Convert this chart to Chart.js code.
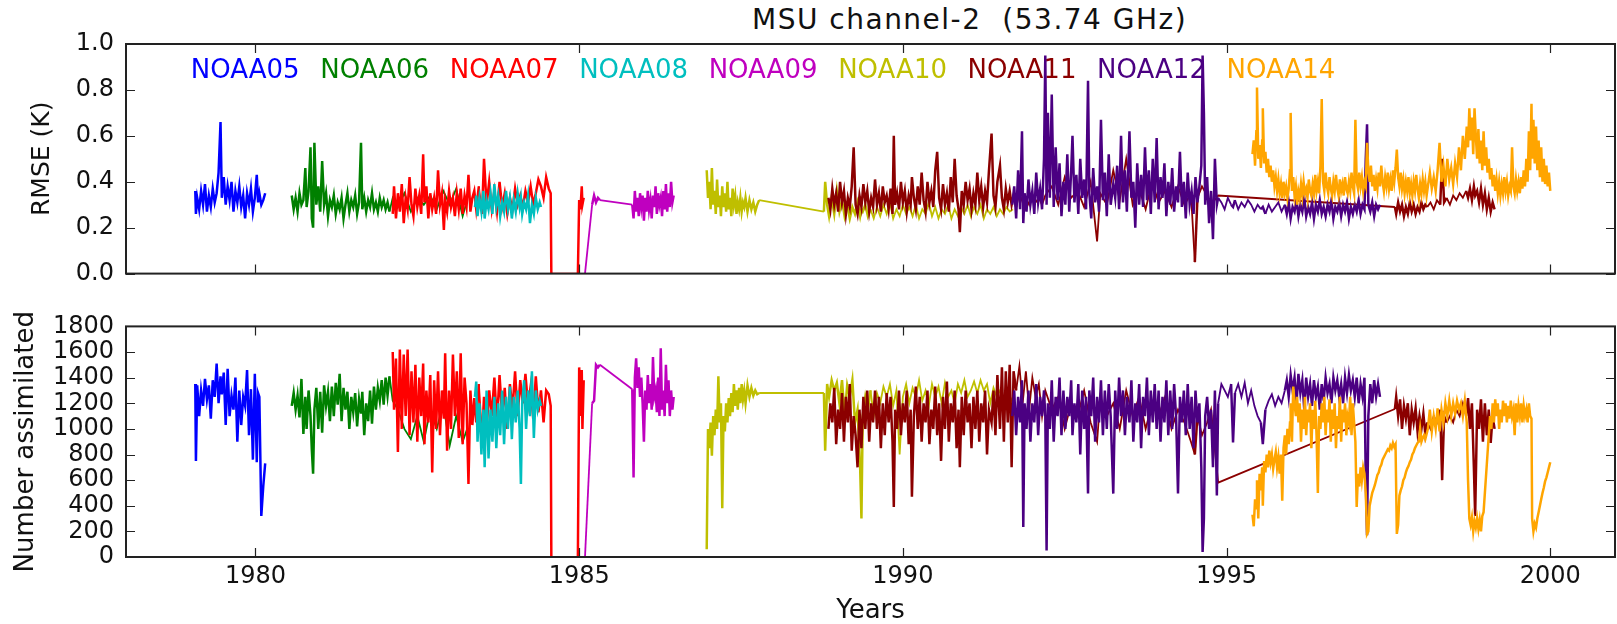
<!DOCTYPE html>
<html>
<head>
<meta charset="utf-8">
<script src="https://cdn.jsdelivr.net/npm/chart.js@4.4.1/dist/chart.umd.min.js"></script>
<style>
  html, body { margin: 0; padding: 0; background: #fff; }
  #wrap { position: relative; width: 1617px; height: 624px; overflow: hidden; }
  #rmseChart { position: absolute; left: 0; top: 0; }
  #countChart { position: absolute; left: 0; top: 300px; }
  #title { position: absolute; left: 752px; top: 6px; font-family: "DejaVu Sans"; font-size: 28px; line-height: 28px;
           letter-spacing: 1.5px; white-space: pre; color: #111; }
</style>
</head>
<body>
<div id="wrap">
  <div id="title">MSU channel-2  (53.74 GHz)</div>
  <canvas id="rmseChart" width="1617" height="300"></canvas>
  <canvas id="countChart" width="1617" height="324"></canvas>
</div>
<script>
// Satellites, their colours and where their names sit in the top panel
const satNames = ['NOAA05', 'NOAA06', 'NOAA07', 'NOAA08', 'NOAA09', 'NOAA10', 'NOAA11', 'NOAA12', 'NOAA14'];
const satColors = ['#0000ff', '#008000', '#ff0000', '#00bfbf', '#bf00bf', '#bfbf00', '#8b0000', '#4b0082', '#ffa500'];
const labelYears = [1979, 1981, 1983, 1985, 1987, 1989, 1991, 1993, 1995];
const labelLevel = 0.85;

// Axis ticks
const yearTicks = [1980, 1985, 1990, 1995, 2000];
const rmseTicks = [0.0, 0.2, 0.4, 0.6, 0.8, 1.0];
const countTicks = [0, 200, 400, 600, 800, 1000, 1200, 1400, 1600, 1800];

// Rows: [year, RMSE (K), number assimilated]
const noaa05 = [
  [1979.07,0.36,1350],[1979.08,0.26,750],[1979.10,0.33,1340],[1979.13,0.28,1100],[1979.16,0.36,1300],
  [1979.19,0.30,1180],[1979.22,0.39,1390],[1979.25,0.27,1230],[1979.28,0.34,1340],[1979.31,0.29,1080],
  [1979.34,0.37,1380],[1979.37,0.31,1250],[1979.40,0.35,1510],[1979.43,0.44,1200],[1979.46,0.66,1410],
  [1979.48,0.33,1270],[1979.51,0.42,1440],[1979.54,0.30,1030],[1979.57,0.38,1470],[1979.60,0.32,1100],
  [1979.63,0.40,1260],[1979.66,0.27,1150],[1979.69,0.36,1400],[1979.72,0.31,900],[1979.75,0.38,1300],
  [1979.78,0.29,1030],[1979.81,0.34,1250],[1979.84,0.24,1180],[1979.87,0.35,1460],[1979.90,0.30,950],
  [1979.93,0.37,1310],[1979.96,0.27,760],[1979.99,0.33,1430],[1980.02,0.43,740],[1980.04,0.31,1280],
  [1980.06,0.35,1250],[1980.09,0.30,320],[1980.12,0.32,550],[1980.15,0.35,730]
];
const noaa06 = [
  [1980.56,0.34,1180],[1980.59,0.28,1280],[1980.62,0.33,1150],[1980.65,0.27,1260],[1980.68,0.35,1090],
  [1980.71,0.30,1390],[1980.74,0.32,960],[1980.77,0.46,1250],[1980.79,0.29,1000],[1980.82,0.36,1300],
  [1980.85,0.55,1100],[1980.87,0.24,840],[1980.89,0.20,650],[1980.91,0.57,1150],[1980.94,0.30,1320],
  [1980.97,0.38,1000],[1981.00,0.27,1290],[1981.03,0.49,970],[1981.06,0.30,1340],[1981.09,0.35,1180],
  [1981.12,0.25,1290],[1981.15,0.32,1060],[1981.18,0.29,1330],[1981.21,0.34,1100],[1981.24,0.26,1360],
  [1981.27,0.31,1190],[1981.30,0.28,1430],[1981.33,0.33,1060],[1981.36,0.24,1320],[1981.39,0.30,1150],
  [1981.42,0.35,1290],[1981.45,0.27,1000],[1981.48,0.32,1250],[1981.51,0.29,1130],[1981.54,0.34,1280],
  [1981.57,0.26,1020],[1981.60,0.31,1230],[1981.63,0.57,1120],[1981.65,0.28,1290],[1981.68,0.33,950],
  [1981.71,0.27,1200],[1981.74,0.32,1060],[1981.77,0.29,1300],[1981.80,0.35,1040],[1981.83,0.28,1330],
  [1981.86,0.31,1150],[1981.89,0.27,1320],[1981.92,0.33,1220],[1981.95,0.29,1380],[1981.98,0.32,1190],
  [1982.01,0.28,1400],[1982.04,0.31,1260],[1982.07,0.27,1410],[1982.12,0.33,1220],[1982.20,0.29,1150],
  [1982.30,0.35,1000],[1982.40,0.27,920],[1982.50,0.33,1100],[1982.60,0.30,900],[1982.70,0.34,1150],
  [1982.80,0.28,1000],[1982.90,0.36,1200],[1983.00,0.30,870],[1983.10,0.37,1100],[1983.20,0.25,900],
  [1983.27,0.32,1000]
];
const noaa07 = [
  [1982.12,0.26,1600],[1982.14,0.38,1150],[1982.17,0.24,1550],[1982.20,0.35,820],[1982.23,0.27,1620],
  [1982.26,0.39,1000],[1982.29,0.22,1580],[1982.32,0.33,1100],[1982.35,0.28,1620],[1982.38,0.42,950],
  [1982.41,0.30,1450],[1982.44,0.25,1050],[1982.47,0.37,1500],[1982.50,0.29,900],[1982.53,0.34,1400],
  [1982.56,0.26,1100],[1982.59,0.52,1510],[1982.61,0.31,880],[1982.64,0.38,1300],[1982.67,0.24,1050],
  [1982.70,0.35,1420],[1982.73,0.28,660],[1982.76,0.33,1380],[1982.79,0.26,1000],[1982.82,0.45,1450],
  [1982.85,0.30,950],[1982.88,0.35,1300],[1982.91,0.19,1080],[1982.93,0.32,1590],[1982.96,0.27,830],
  [1982.99,0.36,1300],[1983.02,0.29,1000],[1983.05,0.33,1580],[1983.08,0.25,1100],[1983.11,0.35,1450],
  [1983.14,0.28,930],[1983.17,0.37,1590],[1983.20,0.26,880],[1983.23,0.34,1400],[1983.26,0.29,1200],
  [1983.29,0.43,570],[1983.32,0.27,1300],[1983.35,0.33,1030],[1983.38,0.36,1240],[1983.41,0.28,1050],
  [1983.45,0.38,1350],[1983.50,0.26,950],[1983.53,0.50,1250],[1983.57,0.30,1000],[1983.61,0.40,1300],
  [1983.65,0.28,1100],[1983.69,0.36,1400],[1983.73,0.27,1050],[1983.77,0.40,1420],[1983.81,0.29,1100],
  [1983.85,0.35,1320],[1983.89,0.26,1000],[1983.93,0.33,1350],[1983.97,0.28,1150],[1984.01,0.37,1450],
  [1984.05,0.30,1100],[1984.09,0.34,1380],[1984.13,0.29,1200],[1984.17,0.36,1430],[1984.21,0.31,1180],
  [1984.25,0.38,1330],[1984.29,0.30,1080],[1984.33,0.35,1410],[1984.37,0.41,1130],[1984.41,0.38,1300],
  [1984.45,0.33,1050],[1984.49,0.42,1300],[1984.53,0.37,1270],[1984.56,0.35,1180],[1984.57,0.00,0],
  [1984.98,0.00,0],[1985.00,0.32,1480],[1985.02,0.28,1100],[1985.04,0.38,1460],[1985.05,0.30,1000],
  [1985.07,0.33,1380]
];
const noaa08 = [
  [1983.39,0.29,1250],[1983.41,0.34,1370],[1983.43,0.25,900],[1983.46,0.33,1200],[1983.49,0.27,800],
  [1983.52,0.36,1150],[1983.54,0.24,700],[1983.57,0.32,1300],[1983.60,0.28,770],[1983.63,0.35,1150],
  [1983.66,0.26,900],[1983.69,0.39,1250],[1983.72,0.29,850],[1983.75,0.34,1200],[1983.78,0.25,950],
  [1983.81,0.31,1300],[1983.84,0.27,880],[1983.87,0.36,1250],[1983.90,0.28,1000],[1983.93,0.33,1330],
  [1983.96,0.24,920],[1983.99,0.32,1250],[1984.02,0.27,1050],[1984.05,0.35,1300],[1984.08,0.29,1000],
  [1984.10,0.33,570],[1984.12,0.26,1200],[1984.15,0.31,1380],[1984.18,0.28,1000],[1984.21,0.34,1300],
  [1984.24,0.22,1100],[1984.27,0.30,1450],[1984.30,0.26,930],[1984.33,0.33,1300],[1984.36,0.28,1150],
  [1984.39,0.31,1220],[1984.41,0.29,1180]
];
const noaa09 = [
  [1985.09,0.00,0],[1985.20,0.30,1200],[1985.23,0.34,1220],[1985.26,0.31,1500],[1985.29,0.33,1480],
  [1985.32,0.32,1500],[1985.82,0.30,1310],[1985.84,0.24,620],[1985.86,0.36,1400],[1985.88,0.27,1550],
  [1985.90,0.33,1320],[1985.92,0.25,1480],[1985.94,0.35,1250],[1985.96,0.29,1400],[1985.98,0.34,1200],
  [1986.00,0.23,900],[1986.02,0.33,1300],[1986.04,0.27,1150],[1986.06,0.36,1420],[1986.08,0.28,1200],
  [1986.10,0.32,1350],[1986.12,0.24,1150],[1986.14,0.34,1560],[1986.16,0.29,1250],[1986.18,0.38,1300],
  [1986.20,0.26,1130],[1986.22,0.35,1400],[1986.24,0.30,1100],[1986.26,0.33,1630],[1986.28,0.25,1150],
  [1986.30,0.36,1300],[1986.32,0.28,1100],[1986.34,0.39,1500],[1986.36,0.27,1200],[1986.38,0.35,1380],
  [1986.40,0.29,1100],[1986.42,0.40,1300],[1986.44,0.31,1150],[1986.46,0.34,1250]
];
const noaa10 = [
  [1986.97,0.45,60],[1986.99,0.33,1000],[1987.01,0.40,850],[1987.03,0.28,1050],[1987.05,0.46,790],
  [1987.07,0.30,1100],[1987.09,0.36,950],[1987.11,0.26,1150],[1987.13,0.41,1000],[1987.15,0.29,1410],
  [1987.17,0.34,1050],[1987.19,0.25,1200],[1987.21,0.38,380],[1987.23,0.29,1100],[1987.25,0.35,980],
  [1987.27,0.27,1200],[1987.29,0.40,1050],[1987.31,0.28,1240],[1987.33,0.33,1100],[1987.35,0.25,1280],
  [1987.37,0.37,1130],[1987.39,0.30,1350],[1987.41,0.34,1180],[1987.43,0.26,1300],[1987.45,0.31,1150],
  [1987.47,0.28,1320],[1987.49,0.33,1200],[1987.51,0.27,1350],[1987.53,0.31,1230],[1987.55,0.29,1300],
  [1987.57,0.33,1200],[1987.60,0.27,1340],[1987.63,0.32,1250],[1987.66,0.28,1320],[1987.69,0.31,1260],
  [1987.72,0.27,1300],[1987.75,0.30,1270],[1987.78,0.32,1280],[1988.78,0.27,1280],[1988.80,0.40,830],
  [1988.83,0.30,1350],[1988.86,0.25,1250],[1988.90,0.33,1380],[1988.94,0.26,1300],[1988.98,0.36,1360],
  [1989.02,0.27,1200],[1989.06,0.32,1380],[1989.10,0.25,1100],[1989.14,0.30,1340],[1989.18,0.24,1250],
  [1989.22,0.29,1380],[1989.26,0.26,1050],[1989.30,0.31,1150],[1989.34,0.25,700],[1989.36,0.28,300],
  [1989.38,0.27,1100],[1989.42,0.30,1250],[1989.46,0.25,1150],[1989.50,0.28,1300],[1989.55,0.24,1100],
  [1989.60,0.29,1280],[1989.65,0.25,1200],[1989.70,0.30,1330],[1989.75,0.26,1250],[1989.80,0.31,1350],
  [1989.85,0.24,1180],[1989.90,0.28,1300],[1989.95,0.25,800],[1990.00,0.30,1250],[1990.05,0.26,1350],
  [1990.10,0.29,1200],[1990.15,0.25,1320],[1990.20,0.30,1250],[1990.25,0.24,1380],[1990.30,0.28,1220],
  [1990.35,0.26,1300],[1990.40,0.31,1180],[1990.45,0.25,1350],[1990.50,0.29,1250],[1990.55,0.24,1330],
  [1990.60,0.28,1200],[1990.65,0.26,1360],[1990.70,0.30,1250],[1990.75,0.24,1300],[1990.80,0.28,1200],
  [1990.85,0.25,1350],[1990.90,0.29,1280],[1990.95,0.26,1380],[1991.00,0.30,1250],[1991.05,0.25,1300],
  [1991.10,0.29,1370],[1991.15,0.26,1280],[1991.20,0.30,1380],[1991.25,0.24,1300],[1991.30,0.28,1350],
  [1991.35,0.26,1200],[1991.40,0.29,1320],[1991.45,0.25,1250],[1991.50,0.28,1300],[1991.55,0.26,1230],
  [1991.60,0.29,1280],[1991.65,0.27,1200],[1991.70,0.28,1250]
];
const noaa11 = [
  [1988.85,0.33,1000],[1988.88,0.28,1200],[1988.91,0.37,1050],[1988.94,0.30,1320],[1988.97,0.35,880],
  [1989.00,0.27,1150],[1989.03,0.40,1000],[1989.06,0.31,1280],[1989.09,0.36,900],[1989.12,0.26,1250],
  [1989.15,0.33,1050],[1989.18,0.29,1350],[1989.21,0.38,830],[1989.24,0.55,1100],[1989.27,0.30,950],
  [1989.30,0.26,700],[1989.33,0.34,1150],[1989.36,0.29,850],[1989.39,0.39,1250],[1989.42,0.31,1000],
  [1989.45,0.36,1300],[1989.48,0.27,900],[1989.51,0.33,1200],[1989.54,0.29,1050],[1989.57,0.41,1300],
  [1989.60,0.30,1000],[1989.63,0.35,1250],[1989.66,0.27,850],[1989.69,0.38,1200],[1989.72,0.31,950],
  [1989.75,0.34,1280],[1989.78,0.28,1050],[1989.81,0.37,1250],[1989.84,0.26,900],[1989.86,0.60,390],
  [1989.88,0.30,1150],[1989.91,0.35,1000],[1989.94,0.28,1300],[1989.97,0.40,950],[1990.00,0.31,1200],
  [1990.03,0.36,1050],[1990.06,0.27,1300],[1990.09,0.34,880],[1990.12,0.30,1150],[1990.14,0.42,470],
  [1990.17,0.33,1100],[1990.20,0.28,1330],[1990.23,0.38,1000],[1990.26,0.30,1250],[1990.29,0.44,900],
  [1990.32,0.32,1200],[1990.35,0.27,1050],[1990.38,0.40,1300],[1990.41,0.31,880],[1990.44,0.36,1150],
  [1990.47,0.29,1000],[1990.50,0.45,1330],[1990.53,0.53,950],[1990.56,0.33,1200],[1990.59,0.28,750],
  [1990.62,0.39,1250],[1990.65,0.30,1000],[1990.68,0.35,1370],[1990.71,0.27,900],[1990.74,0.42,1200],
  [1990.77,0.31,1050],[1990.80,0.50,1300],[1990.83,0.34,850],[1990.86,0.28,1150],[1990.88,0.18,700],
  [1990.91,0.36,1250],[1990.94,0.30,950],[1990.97,0.40,1300],[1991.00,0.32,1050],[1991.03,0.37,1200],
  [1991.06,0.28,850],[1991.09,0.35,1250],[1991.12,0.30,1000],[1991.15,0.44,1300],[1991.18,0.32,900],
  [1991.21,0.38,1200],[1991.24,0.29,1050],[1991.27,0.36,1300],[1991.30,0.31,800],[1991.33,0.45,1150],
  [1991.37,0.61,1050],[1991.40,0.34,1300],[1991.43,0.29,950],[1991.46,0.40,1420],[1991.50,0.47,1000],
  [1991.53,0.33,1480],[1991.56,0.28,900],[1991.59,0.37,1450],[1991.62,0.31,1050],[1991.65,0.36,1500],
  [1991.68,0.30,700],[1991.71,0.34,1450],[1991.75,0.29,1300],[1991.80,0.35,1490],[1991.85,0.31,1200],
  [1991.90,0.33,1450],[1991.95,0.30,1150],[1992.00,0.34,1400],[1992.05,0.31,1250],[1992.10,0.33,1350],
  [1992.15,0.30,1100],[1992.20,0.34,1300],[1992.30,0.38,1150],[1992.40,0.30,1250],[1992.50,0.42,1000],
  [1992.60,0.33,1200],[1992.70,0.36,1100],[1992.80,0.29,1300],[1992.90,0.40,1050],[1993.00,0.14,900],
  [1993.05,0.35,1250],[1993.15,0.30,1100],[1993.25,0.45,1200],[1993.35,0.32,1000],[1993.45,0.50,1300],
  [1993.55,0.30,1100],[1993.65,0.37,1250],[1993.75,0.28,1000],[1993.85,0.40,1200],[1993.95,0.31,1100],
  [1994.05,0.36,1250],[1994.15,0.29,1000],[1994.25,0.38,1150],[1994.35,0.30,1050],[1994.45,0.35,900],
  [1994.51,0.05,800],[1994.55,0.33,1100],[1994.62,0.38,950],[1994.70,0.34,1050],[1994.76,0.30,1150],
  [1994.87,0.34,580],[1997.60,0.29,1155],[1997.62,0.26,1250],[1997.65,0.31,1100],[1997.68,0.27,1230],
  [1997.71,0.30,1000],[1997.74,0.25,1180],[1997.77,0.29,1080],[1997.80,0.26,1200],[1997.83,0.31,950],
  [1997.86,0.27,1150],[1997.89,0.30,1050],[1997.92,0.26,1160],[1997.95,0.29,980],[1997.98,0.27,1100],
  [1998.01,0.31,1000],[1998.04,0.28,1120],[1998.07,0.30,960],[1998.10,0.29,1050],[1998.15,0.31,1000],
  [1998.20,0.28,1100],[1998.25,0.32,1050],[1998.30,0.30,1150],[1998.33,0.50,600],[1998.36,0.31,1100],
  [1998.40,0.33,1050],[1998.45,0.30,1100],[1998.50,0.34,1050],[1998.55,0.32,1150],[1998.60,0.35,1100],
  [1998.65,0.33,1200],[1998.70,0.36,1100],[1998.73,0.33,1240],[1998.76,0.37,1000],[1998.79,0.32,1200],
  [1998.82,0.38,700],[1998.84,0.34,320],[1998.87,0.36,1150],[1998.90,0.31,1000],[1998.93,0.37,1230],
  [1998.96,0.30,900],[1998.99,0.35,1200],[1999.02,0.28,950],[1999.05,0.33,1150],[1999.08,0.27,890],
  [1999.11,0.31,1100],[1999.14,0.28,1000]
];
const noaa12 = [
  [1991.69,0.30,1100],[1991.72,0.38,1300],[1991.75,0.24,950],[1991.78,0.45,1250],[1991.81,0.28,1050],
  [1991.84,0.62,1380],[1991.86,0.22,235],[1991.88,0.35,1200],[1991.91,0.27,1000],[1991.94,0.41,1300],
  [1991.97,0.30,900],[1992.00,0.36,1200],[1992.03,0.26,1050],[1992.06,0.44,1350],[1992.09,0.31,950],
  [1992.12,0.37,1250],[1992.15,0.28,1100],[1992.18,0.50,1300],[1992.20,0.95,1100],[1992.22,0.30,50],
  [1992.24,0.70,1200],[1992.27,0.33,1000],[1992.30,0.78,1380],[1992.33,0.29,900],[1992.36,0.55,1250],
  [1992.39,0.32,1100],[1992.42,0.48,1400],[1992.45,0.25,950],[1992.48,0.40,1300],[1992.51,0.30,1000],
  [1992.54,0.52,1250],[1992.57,0.27,1100],[1992.60,0.45,1380],[1992.62,0.60,950],[1992.65,0.31,1200],
  [1992.68,0.43,1050],[1992.71,0.26,1350],[1992.74,0.50,800],[1992.77,0.33,1300],[1992.80,0.41,1000],
  [1992.83,0.28,1250],[1992.86,0.84,495],[1992.88,0.35,1300],[1992.91,0.24,1100],[1992.94,0.46,1400],
  [1992.97,0.31,900],[1993.00,0.38,1250],[1993.03,0.27,1050],[1993.06,0.67,1380],[1993.09,0.32,950],
  [1993.12,0.44,1300],[1993.15,0.25,1000],[1993.18,0.52,1350],[1993.21,0.30,1100],[1993.25,0.39,495],
  [1993.28,0.33,1300],[1993.31,0.47,1000],[1993.34,0.28,1400],[1993.37,0.60,1100],[1993.40,0.31,1300],
  [1993.43,0.45,950],[1993.46,0.27,1250],[1993.50,0.62,1050],[1993.53,0.33,1380],[1993.56,0.40,900],
  [1993.59,0.20,1200],[1993.62,0.48,1050],[1993.65,0.30,1350],[1993.68,0.43,850],[1993.71,0.29,1250],
  [1993.74,0.55,1100],[1993.77,0.32,1400],[1993.80,0.45,950],[1993.83,0.26,1300],[1993.86,0.50,1050],
  [1993.89,0.31,1350],[1993.92,0.59,1000],[1993.95,0.28,1300],[1993.98,0.42,900],[1994.01,0.33,1250],
  [1994.04,0.48,1050],[1994.07,0.25,1380],[1994.10,0.40,950],[1994.13,0.30,1300],[1994.16,0.46,1000],
  [1994.19,0.27,1350],[1994.22,0.38,1100],[1994.25,0.31,495],[1994.28,0.53,1250],[1994.31,0.29,1050],
  [1994.34,0.40,1300],[1994.37,0.24,950],[1994.40,0.44,1350],[1994.43,0.30,1000],[1994.46,0.36,1250],
  [1994.49,0.26,850],[1994.52,0.42,1300],[1994.55,0.31,1050],[1994.58,0.38,1200],[1994.61,0.47,700],
  [1994.63,0.95,40],[1994.65,0.70,300],[1994.67,0.30,1100],[1994.70,0.42,1250],[1994.73,0.22,1000],
  [1994.76,0.36,1150],[1994.79,0.15,700],[1994.82,0.50,1300],[1994.85,0.30,480],[1994.87,0.33,1200],
  [1994.92,0.31,1350],[1994.97,0.28,1300],[1995.02,0.33,1250],[1995.07,0.30,1350],[1995.10,0.29,895],
  [1995.13,0.32,1280],[1995.18,0.28,1350],[1995.23,0.31,1250],[1995.28,0.29,1360],[1995.33,0.32,1200],
  [1995.38,0.30,1300],[1995.43,0.27,1180],[1995.48,0.30,1100],[1995.53,0.28,1050],[1995.56,0.29,880],
  [1995.60,0.26,1150],[1995.65,0.30,1220],[1995.70,0.27,1270],[1995.75,0.29,1180],[1995.80,0.31,1250],
  [1995.85,0.27,1200],[1995.90,0.30,1300],[1995.93,0.26,1380],[1995.96,0.31,1250],[1995.99,0.24,1420],
  [1996.02,0.29,1300],[1996.05,0.27,1400],[1996.08,0.32,1200],[1996.11,0.25,1430],[1996.14,0.30,1280],
  [1996.17,0.27,1380],[1996.20,0.33,1150],[1996.23,0.25,1400],[1996.26,0.29,1250],[1996.29,0.26,1350],
  [1996.32,0.31,1180],[1996.35,0.24,1380],[1996.38,0.30,1250],[1996.41,0.27,1330],[1996.44,0.32,1150],
  [1996.47,0.26,1350],[1996.50,0.29,1220],[1996.53,0.25,1400],[1996.56,0.30,1280],[1996.59,0.27,1350],
  [1996.62,0.32,1200],[1996.65,0.24,1400],[1996.68,0.29,1300],[1996.71,0.27,1380],[1996.74,0.31,1250],
  [1996.77,0.25,1350],[1996.80,0.30,1200],[1996.83,0.27,1400],[1996.86,0.31,1280],[1996.89,0.24,1420],
  [1996.92,0.29,1300],[1996.95,0.26,1380],[1996.98,0.30,1250],[1997.01,0.27,1400],[1997.04,0.32,1200],
  [1997.07,0.26,1350],[1997.10,0.30,1250],[1997.13,0.28,1400],[1997.15,0.50,600],[1997.17,0.65,170],
  [1997.19,0.30,1100],[1997.22,0.27,1350],[1997.25,0.31,1200],[1997.28,0.25,1380],[1997.31,0.30,1250],
  [1997.34,0.28,1350],[1997.37,0.30,1250]
];
const noaa14 = [
  [1995.40,0.52,330],[1995.42,0.58,240],[1995.44,0.47,450],[1995.46,0.62,380],[1995.47,0.81,600],
  [1995.49,0.50,300],[1995.51,0.56,650],[1995.53,0.46,520],[1995.55,0.58,700],[1995.56,0.72,400],
  [1995.58,0.48,750],[1995.60,0.53,660],[1995.62,0.44,800],[1995.64,0.50,700],[1995.66,0.42,830],
  [1995.68,0.47,740],[1995.70,0.40,800],[1995.72,0.45,690],[1995.74,0.38,760],[1995.76,0.42,820],
  [1995.78,0.36,700],[1995.80,0.41,780],[1995.82,0.35,650],[1995.84,0.39,800],[1995.86,0.33,440],
  [1995.88,0.40,850],[1995.90,0.35,950],[1995.92,0.38,800],[1995.94,0.33,1000],[1995.96,0.37,880],
  [1995.98,0.45,1050],[1995.99,0.70,1200],[1996.01,0.36,900],[1996.03,0.42,1330],[1996.05,0.34,1200],
  [1996.07,0.38,1100],[1996.09,0.30,1250],[1996.11,0.36,1050],[1996.13,0.33,1200],[1996.15,0.39,900],
  [1996.17,0.34,1150],[1996.19,0.40,1000],[1996.21,0.35,1250],[1996.23,0.37,950],[1996.25,0.33,1150],
  [1996.27,0.41,1050],[1996.29,0.36,1200],[1996.31,0.34,850],[1996.33,0.39,1150],[1996.35,0.35,1000],
  [1996.37,0.43,1220],[1996.39,0.36,950],[1996.41,0.40,500],[1996.43,0.35,1100],[1996.45,0.47,1000],
  [1996.47,0.76,1200],[1996.49,0.40,1050],[1996.51,0.36,1250],[1996.53,0.44,950],[1996.55,0.38,1150],
  [1996.57,0.35,1050],[1996.59,0.42,1230],[1996.61,0.37,900],[1996.63,0.34,1150],[1996.65,0.40,1000],
  [1996.67,0.36,1200],[1996.69,0.43,850],[1996.71,0.37,1100],[1996.73,0.34,1000],[1996.75,0.41,1250],
  [1996.77,0.36,900],[1996.79,0.39,1150],[1996.81,0.34,1050],[1996.83,0.42,1200],[1996.85,0.37,950],
  [1996.87,0.35,1100],[1996.89,0.40,1050],[1996.91,0.36,1250],[1996.93,0.44,950],[1996.95,0.38,1200],
  [1996.97,0.35,1050],[1996.99,0.67,900],[1997.01,0.40,390],[1997.03,0.37,650],[1997.05,0.44,550],
  [1997.07,0.38,700],[1997.09,0.42,600],[1997.11,0.36,700],[1997.13,0.40,650],[1997.15,0.38,500],
  [1997.17,0.57,180],[1997.19,0.45,200],[1997.21,0.40,400],[1997.23,0.47,450],[1997.25,0.38,500],
  [1997.27,0.43,530],[1997.29,0.36,560],[1997.31,0.41,600],[1997.33,0.37,640],[1997.35,0.44,660],
  [1997.37,0.38,700],[1997.39,0.47,720],[1997.41,0.40,760],[1997.43,0.36,780],[1997.45,0.42,800],
  [1997.47,0.38,820],[1997.49,0.44,840],[1997.51,0.37,830],[1997.53,0.41,870],[1997.55,0.36,850],
  [1997.57,0.45,890],[1997.59,0.40,860],[1997.61,0.46,880],[1997.63,0.54,180],[1997.65,0.42,250],
  [1997.67,0.38,480],[1997.69,0.44,520],[1997.71,0.37,550],[1997.73,0.41,600],[1997.75,0.35,620],
  [1997.77,0.40,660],[1997.79,0.36,690],[1997.81,0.42,710],[1997.83,0.35,740],[1997.85,0.39,760],
  [1997.87,0.34,800],[1997.89,0.40,820],[1997.91,0.36,850],[1997.93,0.43,870],[1997.95,0.37,890],
  [1997.97,0.33,900],[1997.99,0.39,1000],[1998.01,0.35,900],[1998.03,0.41,930],[1998.05,0.36,950],
  [1998.07,0.40,920],[1998.09,0.34,960],[1998.11,0.38,1000],[1998.14,0.44,1150],[1998.17,0.37,980],
  [1998.20,0.42,1100],[1998.23,0.36,1000],[1998.26,0.45,1160],[1998.29,0.57,980],[1998.32,0.40,1150],
  [1998.35,0.47,1050],[1998.38,0.38,1200],[1998.41,0.50,1100],[1998.44,0.41,1220],[1998.47,0.46,1100],
  [1998.50,0.39,1200],[1998.53,0.48,1120],[1998.56,0.42,1220],[1998.59,0.55,1150],[1998.62,0.45,1200],
  [1998.65,0.60,1100],[1998.68,0.50,1220],[1998.71,0.64,1050],[1998.73,0.55,600],[1998.75,0.72,300],
  [1998.77,0.58,250],[1998.79,0.68,310],[1998.81,0.52,200],[1998.83,0.72,280],[1998.85,0.60,230],
  [1998.87,0.50,300],[1998.89,0.63,220],[1998.91,0.48,290],[1998.93,0.58,200],[1998.95,0.45,320],
  [1998.97,0.62,350],[1998.99,0.47,500],[1999.01,0.55,650],[1999.03,0.44,800],[1999.05,0.50,950],
  [1999.07,0.41,1100],[1999.09,0.46,1000],[1999.11,0.38,1200],[1999.13,0.43,1050],[1999.15,0.36,1230],
  [1999.17,0.41,1100],[1999.19,0.35,1200],[1999.21,0.40,1000],[1999.23,0.34,1150],[1999.25,0.39,1050],
  [1999.27,0.35,1220],[1999.29,0.42,1100],[1999.31,0.36,1200],[1999.33,0.40,1050],[1999.35,0.34,1180],
  [1999.37,0.38,1080],[1999.39,0.36,1220],[1999.41,0.55,1100],[1999.43,0.38,1150],[1999.45,0.35,950],
  [1999.47,0.41,1200],[1999.49,0.36,1050],[1999.51,0.40,1180],[1999.53,0.35,1100],[1999.55,0.42,1200],
  [1999.57,0.37,1050],[1999.59,0.45,1180],[1999.61,0.38,1100],[1999.63,0.50,1150],[1999.65,0.40,1050],
  [1999.67,0.62,1200],[1999.69,0.45,1100],[1999.71,0.74,1080],[1999.72,0.50,300],[1999.74,0.67,200],
  [1999.76,0.48,260],[1999.78,0.64,230],[1999.80,0.45,300],[1999.82,0.58,350],[1999.84,0.42,400],
  [1999.86,0.55,450],[1999.88,0.40,500],[1999.90,0.50,540],[1999.92,0.39,590],[1999.94,0.47,620],
  [1999.96,0.38,660],[1999.98,0.44,700],[2000.00,0.36,740]
];

const satData = [noaa05, noaa06, noaa07, noaa08, noaa09, noaa10, noaa11, noaa12, noaa14];

const FONT = 'DejaVu Sans';
const INK = '#111';
Chart.defaults.font.family = FONT;
Chart.defaults.color = INK;

// Matplotlib style: closed frame with inward ticks on all four sides
const frameTicks = {
  id: 'frameTicks',
  afterDraw(chart) {
    const { ctx, chartArea: a, scales: { x, y } } = chart;
    ctx.save();
    ctx.strokeStyle = '#222';
    ctx.lineWidth = 1.2;
    ctx.beginPath();
    yearTicks.forEach(v => {
      const px = Math.round(x.getPixelForValue(v)) + 0.5;
      ctx.moveTo(px, a.bottom); ctx.lineTo(px, a.bottom - 9);
      ctx.moveTo(px, a.top); ctx.lineTo(px, a.top + 9);
    });
    y.ticks.forEach(t => {
      const py = Math.round(y.getPixelForValue(t.value)) + 0.5;
      ctx.moveTo(a.left, py); ctx.lineTo(a.left + 9, py);
      ctx.moveTo(a.right, py); ctx.lineTo(a.right - 9, py);
    });
    ctx.stroke();
    ctx.lineWidth = 2;
    ctx.strokeRect(a.left, a.top, a.right - a.left, a.bottom - a.top);
    ctx.restore();
  }
};

// Satellite names written in their colours inside the RMSE panel
const satLabels = {
  id: 'satLabels',
  beforeDatasetsDraw(chart) {
    const { ctx, scales: { x, y } } = chart;
    ctx.save();
    ctx.font = '26px "' + FONT + '"';
    ctx.textBaseline = 'alphabetic';
    ctx.textAlign = 'left';
    satNames.forEach((name, i) => {
      ctx.fillStyle = satColors[i];
      ctx.fillText(name, x.getPixelForValue(labelYears[i]), y.getPixelForValue(labelLevel));
    });
    ctx.restore();
  }
};

function buildSets(col) {
  return satData.map((rows, i) => ({
    label: satNames[i],
    data: rows.map(r => ({ x: r[0], y: r[col] })),
    borderColor: satColors[i],
    borderWidth: 2.5,
    // long jumps over data gaps are drawn thinner than the dense daily trace
    segment: { borderWidth: s => (s.p1.parsed.x - s.p0.parsed.x > 0.045 ? 1.8 : 2.5) },
    pointRadius: 0,
    tension: 0,
    fill: false,
    order: satData.length - i
  }));
}

function yearAxis(showLabels) {
  return {
    type: 'linear',
    min: 1978,
    max: 2001,
    afterBuildTicks: s => { s.ticks = yearTicks.map(v => ({ value: v })); },
    afterFit: s => { s.height = showLabels ? 67 : 0; },
    grid: { display: false, drawTicks: false },
    border: { display: false },
    ticks: { display: showLabels, autoSkip: false, padding: 5, color: INK, font: { size: 24 }, maxRotation: 0,
             callback: v => String(v) },
    title: {
      display: showLabels, text: 'Years', color: INK, font: { size: 26 },
      padding: { top: 0, bottom: -3 }
    }
  };
}

function valueAxis(ticks, fmt, title, titleSize, titlePad, max) {
  return {
    type: 'linear',
    min: 0,
    max: max,
    afterBuildTicks: s => { s.ticks = ticks.map(v => ({ value: v })); },
    afterFit: s => { s.width = 126; },
    grid: { display: false, drawTicks: false },
    border: { display: false },
    ticks: { autoSkip: false, padding: 12, color: INK, font: { size: 24 }, callback: fmt },
    title: { display: true, text: title, color: INK, font: { size: titleSize }, padding: { top: titlePad, bottom: 0 } }
  };
}

const baseOptions = {
  responsive: false,
  animation: false,
  events: [],
  normalized: true,
  plugins: { legend: { display: false }, tooltip: { enabled: false } }
};

new Chart(document.getElementById('rmseChart'), {
  type: 'line',
  data: { datasets: buildSets(1) },
  options: Object.assign({}, baseOptions, {
    layout: { padding: { left: 0, top: 44, right: 2, bottom: 23 } },
    scales: {
      x: yearAxis(false),
      y: valueAxis(rmseTicks, v => v.toFixed(1), 'RMSE (K)', 25, 27, 1)
    }
  }),
  plugins: [satLabels, frameTicks]
});

new Chart(document.getElementById('countChart'), {
  type: 'line',
  data: { datasets: buildSets(2) },
  options: Object.assign({}, baseOptions, {
    layout: { padding: { left: 0, top: 25, right: 2, bottom: 0 } },
    scales: {
      x: yearAxis(true),
      y: valueAxis(countTicks, v => String(v), 'Number assimilated', 26, 11, 1800)
    }
  }),
  plugins: [frameTicks]
});
</script>
</body>
</html>
